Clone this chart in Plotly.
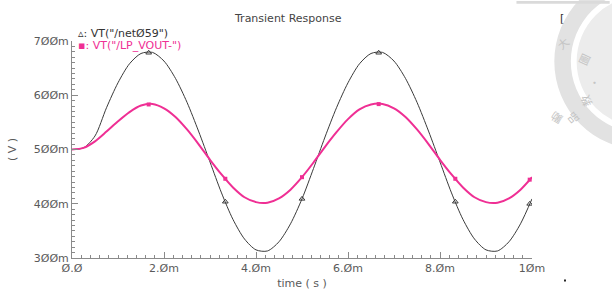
import plotly.graph_objects as go
import numpy as np

# ---- data (time in ms, voltage in V) ----
time_ms = [0.0, 0.25, 0.5, 0.75, 1.0, 1.25, 1.5, 1.75, 2.0, 2.25, 2.5, 2.75, 3.0, 3.25, 3.5, 3.75,
           4.0, 4.25, 4.5, 4.75, 5.0, 5.25, 5.5, 5.75, 6.0, 6.25, 6.5, 6.75, 7.0, 7.25, 7.5, 7.75,
           8.0, 8.25, 8.5, 8.75, 9.0, 9.25, 9.5, 9.75, 10.0]
vt_net059 = [0.500, 0.503, 0.525, 0.577, 0.623, 0.658, 0.677, 0.679, 0.663, 0.631, 0.587, 0.534,
             0.477, 0.420, 0.371, 0.335, 0.315, 0.313, 0.330, 0.363, 0.409, 0.465, 0.523, 0.577,
             0.623, 0.658, 0.677, 0.679, 0.663, 0.631, 0.587, 0.534, 0.477, 0.420, 0.371, 0.335,
             0.315, 0.313, 0.330, 0.363, 0.409]
vt_lp_vout = [0.500, 0.503, 0.515, 0.533, 0.552, 0.569, 0.581, 0.584, 0.576, 0.560, 0.537, 0.510,
              0.481, 0.454, 0.430, 0.412, 0.403, 0.402, 0.410, 0.426, 0.449, 0.476, 0.505, 0.532,
              0.556, 0.574, 0.583, 0.584, 0.576, 0.560, 0.537, 0.510, 0.481, 0.454, 0.430, 0.412,
              0.403, 0.402, 0.410, 0.426, 0.449]
marker_times = [1.667, 3.333, 5.0, 6.667, 8.333, 9.95]

x_tickvals = [0, 2, 4, 6, 8, 10]
x_ticktext = ["Ø.Ø", "2.Øm", "4.Øm", "6.Øm", "8.Øm", "1Øm"]
y_tickvals = [0.3, 0.4, 0.5, 0.6, 0.7]
y_ticktext = ["3ØØm", "4ØØm", "5ØØm", "6ØØm", "7ØØm"]

title_text = "Transient Response"
legend_black = 'VT("/netØ59")'
legend_pink = 'VT("/LP_VOUT-")'

BLACK = "#3a3a3a"
PINK = "#ef2f94"
AXIS = "#8a8a8a"
TXT = "#5a5a5a"
FONT = "DejaVu Sans"

W, H = 612, 300
L, R, T, B = 58, 80, 41, 37
PW, PH = W - L - R, H - T - B


def px(x):
    return (x - L) / PW


def py(y):
    return 1 - (y - T) / PH


fig = go.Figure()
fig.add_trace(go.Scatter(x=time_ms, y=vt_net059, mode="lines",
                         line=dict(color=BLACK, width=1, shape="spline", smoothing=0.8),
                         showlegend=False, hoverinfo="skip"))
fig.add_trace(go.Scatter(x=time_ms, y=vt_lp_vout, mode="lines",
                         line=dict(color=PINK, width=2, shape="spline", smoothing=0.8),
                         showlegend=False, hoverinfo="skip"))
fig.add_trace(go.Scatter(x=marker_times, y=np.interp(marker_times, time_ms, vt_net059), mode="markers",
                         marker=dict(symbol="triangle-up-open", size=5, color=BLACK, line=dict(width=1)),
                         showlegend=False, hoverinfo="skip"))
fig.add_trace(go.Scatter(x=marker_times, y=np.interp(marker_times, time_ms, vt_lp_vout), mode="markers",
                         marker=dict(symbol="square", size=4, color=PINK),
                         showlegend=False, hoverinfo="skip"))

fig.update_xaxes(range=[0, 10], tickvals=x_tickvals, ticktext=x_ticktext,
                 showline=True, linecolor=AXIS, linewidth=1, showgrid=False, zeroline=False,
                 ticks="inside", ticklen=6, tickcolor=AXIS,
                 minor=dict(ticks="inside", ticklen=3, dtick=0.2, tickcolor=AXIS),
                 tickfont=dict(family=FONT, size=11, color=TXT),
                 title=dict(text="time ( s )", font=dict(family=FONT, size=11, color=TXT), standoff=5))
fig.update_yaxes(range=[0.3, 0.7], tickvals=y_tickvals, ticktext=y_ticktext,
                 showline=True, linecolor=AXIS, linewidth=1, showgrid=False, zeroline=False,
                 ticks="inside", ticklen=6, tickcolor=AXIS,
                 minor=dict(ticks="inside", ticklen=3, dtick=0.01, tickcolor=AXIS),
                 tickfont=dict(family=FONT, size=11, color=TXT),
                 title=dict(text="( V )", font=dict(family=FONT, size=11, color=TXT), standoff=14))

# watermark seal (top right)
cx, cy = 645, 62
for r, col in [(90, "#e2e2e2"), (73, "#ffffff"), (67, "#ececec")]:
    fig.add_shape(type="circle", xref="paper", yref="paper", layer="below",
                  x0=px(cx - r), x1=px(cx + r), y0=py(cy + r), y1=py(cy - r),
                  line=dict(width=0), fillcolor=col)
for ch, x, y, a in [("大", 576, 30, -40), ("圖", 598, 48, -65), ("·", 604, 73, 0),
                    ("教", 600, 92, -110), ("品", 586, 108, -130), ("勵", 569, 120, -150)]:
    fig.add_annotation(text=ch, x=px(x), y=py(y), xref="paper", yref="paper", showarrow=False,
                       textangle=a, font=dict(family="Noto Sans CJK TC", size=11, color="#c4c4c4"))
fig.add_shape(type="rect", xref="paper", yref="paper", x0=px(516), x1=px(612), y0=py(3), y1=py(0),
              line=dict(width=0), fillcolor="#dadada")

# title, legend, misc text
fig.add_annotation(text=title_text, x=px(281), y=py(9), xref="paper", yref="paper", showarrow=False,
                   font=dict(family=FONT, size=11, color="#444444"))
fig.add_annotation(text="▵: " + legend_black, x=px(62), y=py(25), xref="paper", yref="paper",
                   showarrow=False, xanchor="left", font=dict(family=FONT, size=11, color="#333333"))
fig.add_annotation(text="▪: " + legend_pink, x=px(62), y=py(37), xref="paper", yref="paper",
                   showarrow=False, xanchor="left", font=dict(family=FONT, size=11, color=PINK))
fig.add_annotation(text="[", x=px(567), y=py(9), xref="paper", yref="paper", showarrow=False,
                   font=dict(family=FONT, size=11, color="#333333"))
fig.add_shape(type="rect", xref="paper", yref="paper", x0=px(565), x1=px(567), y0=py(287), y1=py(285),
              line=dict(width=0), fillcolor="#222222")

fig.update_layout(width=W, height=H, autosize=False, margin=dict(l=L, r=R, t=T, b=B),
                  paper_bgcolor="white", plot_bgcolor="white", showlegend=False)

fig.write_html("out.html")
